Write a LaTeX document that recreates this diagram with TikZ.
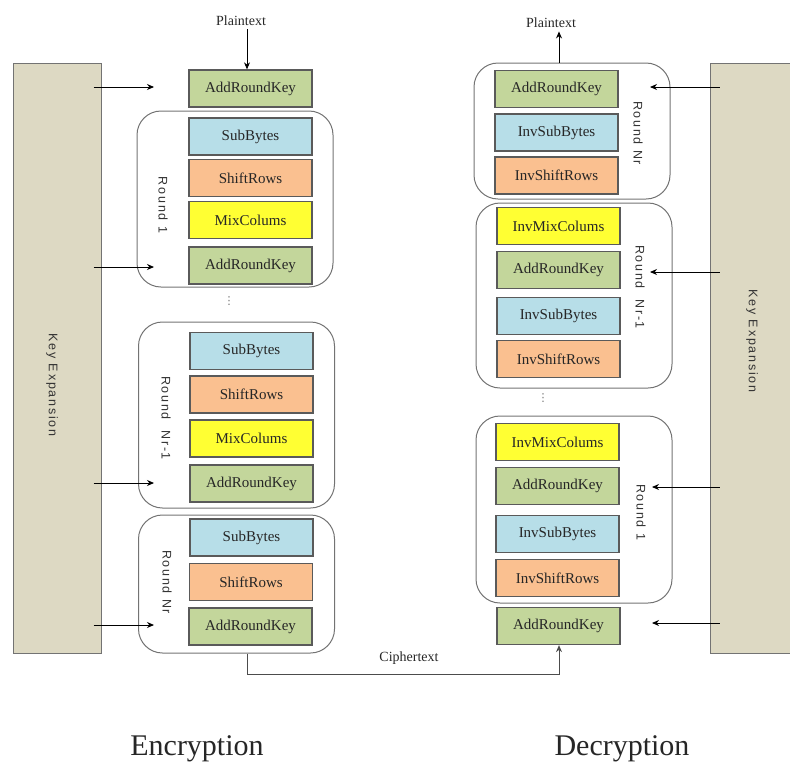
\documentclass[tikz,border=0pt]{standalone}
\usepackage{fontspec}
\setmainfont{Liberation Serif}
\newfontfamily\lblfont[LetterSpace=14]{Liberation Sans}
\newfontfamily\dvfont{DejaVu Sans}
\usetikzlibrary{arrows.meta}
\definecolor{cgreen}{HTML}{C3D69B}
\definecolor{cblue}{HTML}{B7DEE8}
\definecolor{corange}{HTML}{FAC090}
\definecolor{cyellow}{HTML}{FFFF33}
\definecolor{ctan}{HTML}{DDD9C3}
\definecolor{cedge}{HTML}{5A5A5A}
\tikzset{
  box/.style={draw=cedge, line width=1.3pt, minimum width=123pt, minimum height=37pt, inner sep=0pt,
    font=\fontsize{15}{17}\selectfont, text=black!85},
  grn/.style={box, fill=cgreen},
  blu/.style={box, fill=cblue},
  org/.style={box, fill=corange},
  yel/.style={box, fill=cyellow},
  rbox/.style={draw=black!55, line width=1pt, rounded corners=24pt, minimum width=196pt, inner sep=0pt},
  keyrect/.style={draw=black!55, line width=1pt, fill=ctan, inner sep=0pt},
  rlabel/.style={rotate=-90, font=\lblfont\fontsize{12.5}{14}\selectfont, text=black!80},
  txt/.style={font=\fontsize{14}{16}\selectfont, text=black!85},
  big/.style={font=\fontsize{30}{34}\selectfont, text=black!85},
  dts/.style={text=black!55, font=\dvfont\fontsize{11}{12}\selectfont, inner sep=0pt},
  arr/.style={line width=0.9pt, -{Stealth[length=7pt,width=6pt]}},
  ln/.style={line width=1.1pt, draw=black!60},
}
\begin{document}
\begin{tikzpicture}[x=1pt,y=-1pt]
\useasboundingbox (0,0) rectangle (790,766);
% key expansion blocks
\node[keyrect, minimum width=88pt, minimum height=590pt] (kl) at (57,358) {};
\node[rlabel] (klt) at (52,385) {Key Expansion};
\node[keyrect, minimum width=90pt, minimum height=590pt] (kr) at (755,358) {};
\node[rlabel] (krt) at (752,341) {Key Expansion};

% ---------------- Encryption ----------------
\node[txt] (ptE) at (241,21) {Plaintext};
\node[grn] (e0) at (250.5,88.5) {AddRoundKey};
\draw[arr] (ptE.south -| 247,0) -- (e0.north -| 247,0);

\node[rbox, minimum height=176pt] (er1) at (235,199) {};
\node[blu] (e1a) at (250.5,136.5) {SubBytes};
\node[org] (e1b) at (250.5,178) {ShiftRows};
\node[yel] (e1c) at (250.5,220) {MixColums};
\node[grn] (e1d) at (250.5,265.5) {AddRoundKey};
\node[rlabel] (er1t) at (163,205) {Round 1};

\node[dts] (edots) at (229,301) {⋮};

\node[rbox, minimum height=186pt] (er2) at (236.5,415) {};
\node[blu] (e2a) at (251.5,351) {SubBytes};
\node[org] (e2b) at (251.5,394.5) {ShiftRows};
\node[yel] (e2c) at (251.5,438.5) {MixColums};
\node[grn] (e2d) at (251.5,483.5) {AddRoundKey};
\node[rlabel] (er2t) at (166,418) {Round\ \ Nr-1};

\node[rbox, minimum height=138pt] (er3) at (236.5,584) {};
\node[blu] (e3a) at (251.5,537.5) {SubBytes};
\node[org] (e3b) at (251,582) {ShiftRows};
\node[grn] (e3c) at (250.5,626.5) {AddRoundKey};
\node[rlabel] (er3t) at (167,582) {Round Nr};

% key arrows (encryption)
\coordinate (ka0) at (154,87);
\coordinate (ka1) at (154,267);
\coordinate (ka2) at (154,483);
\coordinate (ka3) at (154,625);
\foreach \c in {ka0,ka1,ka2,ka3}
  \draw[arr] ([xshift=-8pt]kl.east |- \c) -- (\c);

% ---------------- Decryption ----------------
\node[txt] (ptD) at (551,23) {Plaintext};
\node[rbox, minimum height=136pt] (dr1) at (572,131) {};
\node[grn] (d1a) at (556.5,89) {AddRoundKey};
\node[blu] (d1b) at (556.5,132.5) {InvSubBytes};
\node[org] (d1c) at (556.5,175.5) {InvShiftRows};
\node[rlabel] (dr1t) at (638,133) {Round Nr};
\draw[arr] (dr1.north -| 559,0) -- (ptD.south -| 559,0);

\node[rbox, minimum height=185pt] (dr2) at (574,295.5) {};
\node[yel] (d2a) at (558.5,226) {InvMixColums};
\node[grn] (d2b) at (558.5,270) {AddRoundKey};
\node[blu] (d2c) at (558.5,316) {InvSubBytes};
\node[org] (d2d) at (558.5,359) {InvShiftRows};
\node[rlabel] (dr2t) at (640,287) {Round\ \ Nr-1};

\node[dts] (ddots) at (543,398) {⋮};

\node[rbox, minimum height=187pt] (dr3) at (574,509.5) {};
\node[yel] (d3a) at (557.5,442) {InvMixColums};
\node[grn] (d3b) at (557.5,486) {AddRoundKey};
\node[blu] (d3c) at (557.5,534) {InvSubBytes};
\node[org] (d3d) at (557.5,578) {InvShiftRows};
\node[rlabel] (dr3t) at (641,512) {Round 1};

\node[grn] (d4) at (558.5,626) {AddRoundKey};

% key arrows (decryption)
\coordinate (kb0) at (650,87);
\coordinate (kb1) at (650,272);
\coordinate (kb2) at (652,487);
\coordinate (kb3) at (652,623);
\foreach \c in {kb0,kb1,kb2,kb3}
  \draw[arr] ([xshift=10pt]kr.west |- \c) -- (\c);

% ciphertext connection
\draw[ln, arr, draw=black!70] (er3.south -| 247,0) -- (247,674) -| (d4.south -| 559,0);
\node[txt] (ct) at (409,658) {Ciphertext};

% titles
\node[big] (enc) at (197,749) {Encryption};
\node[big] (dec) at (622,749) {Decryption};
\end{tikzpicture}
\end{document}
